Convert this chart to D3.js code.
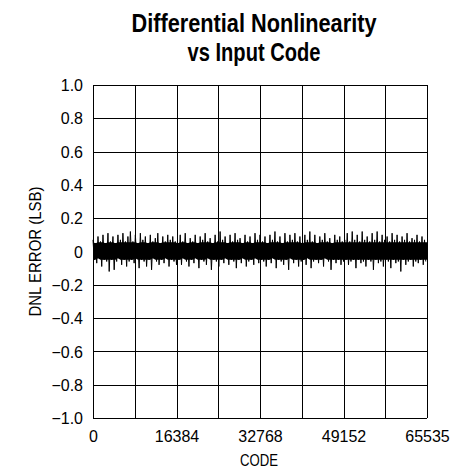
<html>
<head>
<script src="https://cdn.jsdelivr.net/npm/d3@7"></script>
<style>
  body { margin: 0; background: #fff; }
  text { font-family: "Liberation Sans", Arial, sans-serif; fill: #000; }
  .title { font-weight: bold; font-size: 26px; }
  .tick text { font-size: 16px; }
  .label { font-size: 16px; }
</style>
</head>
<body>
<svg width="465" height="468"></svg>
<script>
// y axis ticks (LSB) and x axis ticks (code)
var yTicks = [-1.0, -0.8, -0.6, -0.4, -0.2, 0, 0.2, 0.4, 0.6, 0.8, 1.0];
var yTickLabels = ["\u22121.0", "\u22120.8", "\u22120.6", "\u22120.4", "\u22120.2", "0", "0.2", "0.4", "0.6", "0.8", "1.0"];
var xTicks = [0, 16384, 32768, 49152, 65535];
var xGrid = [0, 8192, 16384, 24576, 32768, 40960, 49152, 57344, 65535];

// DNL envelope per code bin (max and min within each bin)
var dnlHigh = [
  0.07,0.05,0.09,0.06,0.10,0.05,0.11,0.06,0.09,0.05,0.10,0.07,0.11,0.06,0.09,0.12,0.06,0.10,0.05,0.11,0.07,0.09,0.05,0.10,0.06,0.08,0.11,0.05,0.09,0.06,0.10,0.07,0.09,0.06,
  0.05,0.10,0.06,0.11,0.05,0.08,0.06,0.10,0.05,0.09,0.07,0.11,0.06,0.08,0.05,0.10,0.06,0.12,0.07,0.09,0.05,0.10,0.06,0.11,0.07,0.08,0.05,0.10,0.06,0.09,0.05,0.11,0.07,0.10,
  0.06,0.09,0.05,0.10,0.07,0.12,0.06,0.09,0.05,0.11,0.06,0.10,0.07,0.11,0.06,0.09,0.05,0.10,0.07,0.12,0.06,0.10,0.05,0.09,0.07,0.11,0.06,0.08,0.05,0.10,0.07,0.09,0.06,
  0.07,0.11,0.06,0.12,0.07,0.10,0.06,0.12,0.07,0.09,0.06,0.11,0.07,0.12,0.06,0.10,0.07,0.09,0.06,0.11,0.07,0.10,0.06,0.09,0.07,0.11,0.06,0.08,0.07,0.10,0.06,0.09,0.07
];
var dnlLow = [
  -0.05,-0.07,-0.04,-0.09,-0.05,-0.06,-0.12,-0.05,-0.11,-0.06,-0.04,-0.08,-0.05,-0.09,-0.06,-0.05,-0.07,-0.04,-0.10,-0.05,-0.06,-0.09,-0.05,-0.11,-0.04,-0.06,-0.08,-0.05,-0.07,-0.04,-0.09,-0.05,-0.06,-0.08,
  -0.05,-0.08,-0.04,-0.06,-0.09,-0.05,-0.07,-0.04,-0.10,-0.05,-0.06,-0.08,-0.04,-0.11,-0.05,-0.06,-0.09,-0.05,-0.07,-0.04,-0.08,-0.05,-0.06,-0.10,-0.05,-0.07,-0.04,-0.09,-0.06,-0.05,-0.08,-0.04,-0.07,-0.05,
  -0.06,-0.09,-0.05,-0.07,-0.04,-0.10,-0.05,-0.06,-0.08,-0.05,-0.11,-0.04,-0.07,-0.05,-0.09,-0.06,-0.05,-0.08,-0.04,-0.10,-0.06,-0.05,-0.07,-0.05,-0.09,-0.04,-0.06,-0.11,-0.05,-0.07,-0.05,-0.08,-0.06,
  -0.05,-0.08,-0.06,-0.05,-0.10,-0.05,-0.07,-0.06,-0.09,-0.05,-0.06,-0.11,-0.05,-0.07,-0.06,-0.09,-0.05,-0.06,-0.10,-0.05,-0.07,-0.06,-0.12,-0.05,-0.08,-0.06,-0.05,-0.09,-0.06,-0.07,-0.05,-0.08,-0.06
];

var svg = d3.select("svg");
var plotLeft = 93, plotRight = 427, plotTop = 85, plotBottom = 418;

var x = d3.scaleLinear().domain([0, 65535]).range([plotLeft, plotRight]);
var y = d3.scaleLinear().domain([-1, 1]).range([plotBottom, plotTop]);

// title (condensed face, so squeeze to the measured width)
svg.append("text").attr("class", "title").attr("x", 254).attr("y", 32)
  .attr("text-anchor", "middle").attr("textLength", 245).attr("lengthAdjust", "spacingAndGlyphs")
  .text("Differential Nonlinearity");
svg.append("text").attr("class", "title").attr("x", 254).attr("y", 61)
  .attr("text-anchor", "middle").attr("textLength", 133).attr("lengthAdjust", "spacingAndGlyphs")
  .text("vs Input Code");

// grid
svg.append("g").selectAll("line").data(yTicks).enter().append("line")
  .attr("x1", plotLeft).attr("x2", plotRight)
  .attr("y1", function(d) { return Math.round(y(d)) + 0.5; })
  .attr("y2", function(d) { return Math.round(y(d)) + 0.5; })
  .attr("stroke", "#000").attr("stroke-width", 1);
svg.append("g").selectAll("line").data(xGrid).enter().append("line")
  .attr("y1", plotTop).attr("y2", plotBottom)
  .attr("x1", function(d) { return Math.round(x(d)) + 0.5; })
  .attr("x2", function(d) { return Math.round(x(d)) + 0.5; })
  .attr("stroke", "#000").attr("stroke-width", 1);

// DNL trace
var n = dnlHigh.length;
var step = 65535 / n;
var bins = dnlHigh.map(function(h, i) { return { c: i * step, hi: h, lo: dnlLow[i] }; });

// dense core of the band: every bin covers at least this much
var core = d3.area()
  .x(function(d) { return x(d.c); })
  .y0(function(d) { return y(Math.max(d.lo, -0.05)); })
  .y1(function(d) { return y(Math.min(d.hi, 0.055)); });
svg.append("path").datum(bins.concat([{ c: 65535, hi: 0.06, lo: -0.05 }])).attr("d", core).attr("fill", "#000");

// spikes: one vertical stroke per bin from min to max, joined zigzag
var pts = [];
bins.forEach(function(b) {
  pts.push([b.c, b.hi]);
  pts.push([b.c + step / 2, b.lo]);
});
var line = d3.line().x(function(d) { return x(d[0]); }).y(function(d) { return y(d[1]); });
svg.append("path").datum(pts).attr("d", line)
  .attr("fill", "none").attr("stroke", "#000").attr("stroke-width", 1);

// axes (labels only)
var yAxis = d3.axisLeft(y).tickValues(yTicks).tickSize(0).tickPadding(10)
  .tickFormat(function(d, i) { return yTickLabels[i]; });
var gy = svg.append("g").attr("transform", "translate(" + plotLeft + ",0)").call(yAxis);
gy.select(".domain").remove();
gy.selectAll(".tick text").attr("dy", "0.35em");

var xAxis = d3.axisBottom(x).tickValues(xTicks).tickSize(0).tickPadding(13).tickFormat(d3.format("d"));
var gx = svg.append("g").attr("transform", "translate(0," + plotBottom + ")").call(xAxis);
gx.select(".domain").remove();
gx.selectAll(".tick text").attr("dy", "0.71em");
gy.attr("font-family", null).attr("font-size", null);
gx.attr("font-family", null).attr("font-size", null);

// axis titles
svg.append("text").attr("class", "label").attr("x", 259).attr("y", 466)
  .attr("text-anchor", "middle").attr("textLength", 38).attr("lengthAdjust", "spacingAndGlyphs")
  .text("CODE");
svg.append("text").attr("class", "label")
  .attr("transform", "translate(41," + ((plotTop + plotBottom) / 2) + ") rotate(-90)")
  .attr("text-anchor", "middle").attr("textLength", 130).attr("lengthAdjust", "spacingAndGlyphs")
  .text("DNL ERROR (LSB)");
</script>
</body>
</html>
